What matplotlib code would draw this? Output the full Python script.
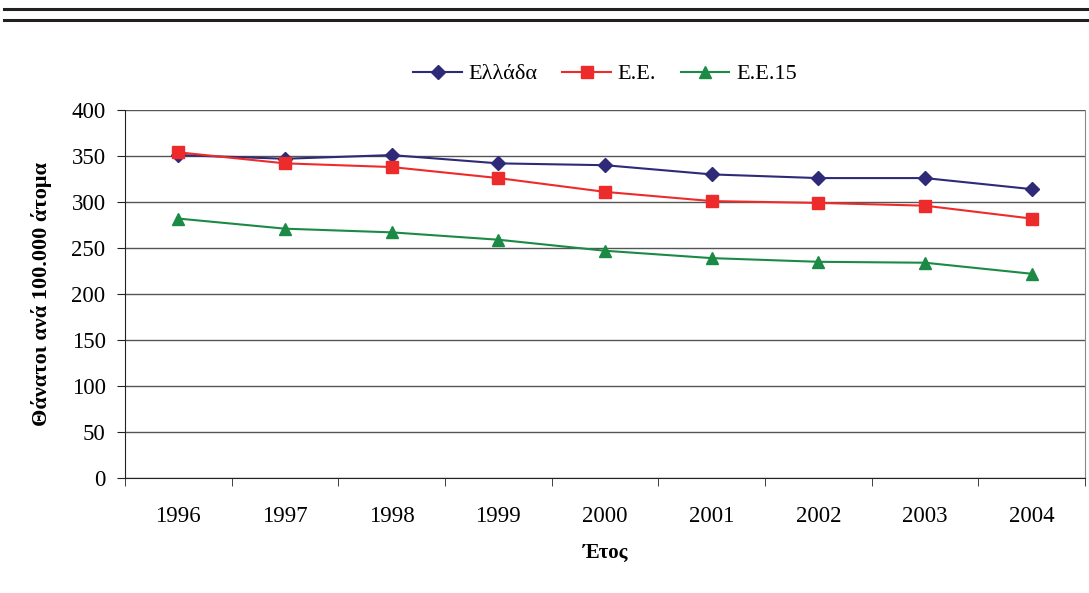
import numpy as np
import matplotlib.pyplot as plt
from matplotlib.lines import Line2D

plt.rcParams['font.family'] = ['Liberation Serif', 'DejaVu Serif']

years = ['1996', '1997', '1998', '1999', '2000', '2001', '2002', '2003', '2004']
greece = [351, 347, 351, 342, 340, 330, 326, 326, 314]
eu = [354, 342, 338, 326, 311, 301, 299, 296, 282]
eu15 = [282, 271, 267, 259, 247, 239, 235, 234, 222]

fig = plt.figure(figsize=(10.89, 5.93), dpi=100)
ax = fig.add_axes([125 / 1089, 1 - 478 / 593, 960 / 1089, 368 / 593])

x = np.arange(len(years))
ax.plot(x, greece, color='#2e2a78', marker='D', markersize=7, lw=1.5, label='Ελλάδα')
ax.plot(x, eu, color='#ee2b2b', marker='s', markersize=8, lw=1.5, label='Ε.Ε.')
ax.plot(x, eu15, color='#1b8a45', marker='^', markersize=9, lw=1.5, label='Ε.Ε.15')

ax.set_xlim(-0.5, len(years) - 0.5)
ax.set_ylim(0, 400)
ax.set_yticks(range(0, 401, 50))
ax.set_xticks(x)
ax.set_xticklabels(years, fontsize=16.5)
ax.set_xticks(np.arange(-0.5, len(years)), minor=True)
ax.tick_params(axis='x', which='major', length=0, pad=20)
ax.tick_params(axis='x', which='minor', length=6, direction='out', color='#222')
ax.tick_params(axis='y', labelsize=16.5, length=6, direction='out', color='#222', pad=8)
ax.yaxis.grid(True, color='#555555', lw=1)
ax.set_axisbelow(True)
ax.spines['top'].set_visible(False)
ax.spines['right'].set_color('#888888')
ax.spines['left'].set_color('#222222')
ax.spines['bottom'].set_color('#222222')

ax.set_ylabel('Θάνατοι ανά 100.000 άτομα', fontsize=16, fontweight='bold', labelpad=14)
ax.set_xlabel('Έτος', fontsize=15, fontweight='bold', labelpad=12)

ax.legend(loc='lower center', bbox_to_anchor=(0.5, 1.015), ncol=3, frameon=False,
          fontsize=16, handlelength=2.2, handletextpad=0.3, columnspacing=1.1)

# top double rule
fig.add_artist(Line2D([4 / 1089, 1], [1 - 9 / 593] * 2, color='#231f20', lw=2.2))
fig.add_artist(Line2D([4 / 1089, 1], [1 - 20 / 593] * 2, color='#231f20', lw=2.2))

fig.savefig('out.png', dpi=100)
